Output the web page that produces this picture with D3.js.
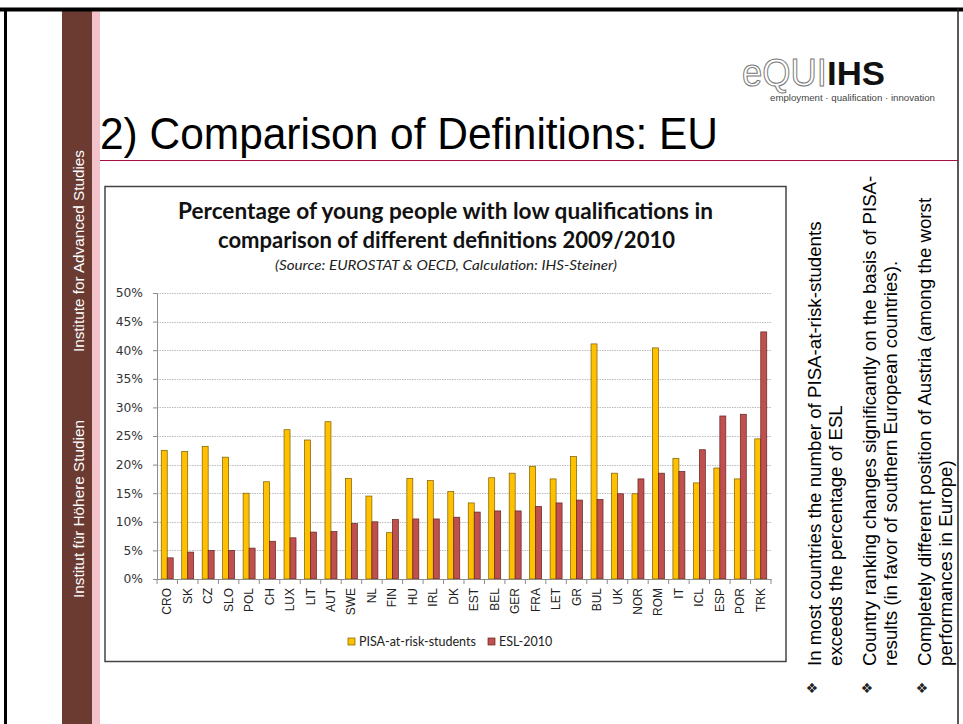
<!DOCTYPE html>
<html>
<head>
<meta charset="utf-8">
<script src="https://cdn.jsdelivr.net/npm/d3@7"></script>
<style>
  body { margin: 0; background: #fff; }
  svg { display: block; }
</style>
</head>
<body>
<div id="slide"></div>
<script>
// data
const countries = ['CRO','SK','CZ','SLO','POL','CH','LUX','LIT','AUT','SWE','NL','FIN','HU','IRL','DK',
  'EST','BEL','GER','FRA','LET','GR','BUL','UK','NOR','ROM','IT','ICL','ESP','POR','TRK'];
const pisa = [22.5, 22.3, 23.2, 21.3, 15.0, 17.0, 26.1, 24.3, 27.5, 17.6, 14.5, 8.1, 17.6, 17.2, 15.3,
  13.3, 17.7, 18.5, 19.7, 17.5, 21.4, 41.1, 18.5, 14.9, 40.4, 21.1, 16.8, 19.4, 17.5, 24.5];
const esl = [3.7, 4.7, 5.0, 5.0, 5.4, 6.6, 7.2, 8.2, 8.3, 9.7, 10.0, 10.4, 10.5, 10.5, 10.8,
  11.7, 11.9, 11.9, 12.7, 13.3, 13.8, 13.9, 14.9, 17.5, 18.5, 18.8, 22.6, 28.5, 28.8, 43.2];
const series = ['PISA-at-risk-students', 'ESL-2010'];
const seriesColors = ['#FFC000', '#C0504D'];
const seriesStroke = ['#7a5c00', '#5e2523'];
const yTicks = [0, 5, 10, 15, 20, 25, 30, 35, 40, 45, 50];

const bullets = [
  ['In most countries the number of PISA-at-risk-students', 'exceeds the percentage of ESL'],
  ['Country ranking changes significantly on the basis of PISA-', 'results (in favor of southern European countries).'],
  ['Completely different position of Austria (among the worst', 'performances in Europe)']
];

const width = 963, height = 724;
const plot = { left: 157, right: 771, top: 293, bottom: 579 };

const svg = d3.select('#slide').append('svg')
  .attr('width', width)
  .attr('height', height);

// slide frame and side band
svg.append('rect').attr('x', 0).attr('y', 0).attr('width', width).attr('height', height).attr('fill', '#fff');
svg.append('rect').attr('x', 62).attr('y', 11).attr('width', 30).attr('height', height).attr('fill', '#6b3a31');
svg.append('rect').attr('x', 92).attr('y', 11).attr('width', 8).attr('height', height).attr('fill', '#f2c3ca');
svg.append('line').attr('x1', 0).attr('x2', 963).attr('y1', 9.5).attr('y2', 9.5).attr('stroke', '#000').attr('stroke-width', 4);
svg.append('line').attr('x1', 5.5).attr('x2', 5.5).attr('y1', 8).attr('y2', height).attr('stroke', '#000').attr('stroke-width', 3);
svg.append('line').attr('x1', 958).attr('x2', 958).attr('y1', 8).attr('y2', height).attr('stroke', '#222').attr('stroke-width', 1.5);

const side = svg.append('g').attr('fill', '#fff').attr('font-family', 'Liberation Sans, Arial, sans-serif').attr('font-size', 15);
side.append('text').attr('transform', 'translate(84,598) rotate(-90)')
  .attr('textLength', 178).attr('lengthAdjust', 'spacingAndGlyphs').text('Institut für Höhere Studien');
side.append('text').attr('transform', 'translate(84,352) rotate(-90)')
  .attr('textLength', 202).attr('lengthAdjust', 'spacingAndGlyphs').text('Institute for Advanced Studies');

// title
svg.append('text')
  .attr('x', 100).attr('y', 149)
  .attr('font-family', 'Liberation Sans, Arial, sans-serif')
  .attr('font-size', 45)
  .attr('textLength', 618).attr('lengthAdjust', 'spacingAndGlyphs')
  .attr('fill', '#000')
  .text('2) Comparison of Definitions: EU');
svg.append('line').attr('x1', 100).attr('x2', 958).attr('y1', 160.5).attr('y2', 160.5)
  .attr('stroke', '#a3123f').attr('stroke-width', 1.2);

// logo
svg.append('text').attr('x', 742).attr('y', 86)
  .attr('font-family', 'Liberation Sans, Arial, sans-serif').attr('font-size', 38)
  .attr('textLength', 85).attr('lengthAdjust', 'spacingAndGlyphs')
  .attr('fill', '#fff').attr('stroke', '#777').attr('stroke-width', 1)
  .text('eQUI');
svg.append('text').attr('x', 827).attr('y', 85)
  .attr('font-family', 'Liberation Sans, Arial, sans-serif').attr('font-size', 34).attr('font-weight', 'bold')
  .attr('textLength', 58).attr('lengthAdjust', 'spacingAndGlyphs')
  .attr('fill', '#111').text('IHS');
svg.append('text').attr('x', 770).attr('y', 101)
  .attr('font-family', 'Liberation Sans, Arial, sans-serif').attr('font-size', 8.5)
  .attr('textLength', 165).attr('lengthAdjust', 'spacingAndGlyphs')
  .attr('fill', '#444')
  .text('employment · qualification · innovation');

// chart box
svg.append('rect').attr('x', 105).attr('y', 186.5).attr('width', 681).attr('height', 475)
  .attr('fill', '#fff').attr('stroke', '#444').attr('stroke-width', 1.5);

const chartTitle = svg.append('g').attr('font-family', 'Lato, Calibri, sans-serif').attr('text-anchor', 'middle').attr('fill', '#111');
chartTitle.append('text').attr('x', 445.5).attr('y', 219).attr('font-size', 22).attr('font-weight', 'bold')
  .attr('textLength', 535).attr('lengthAdjust', 'spacingAndGlyphs')
  .text('Percentage of young people with low qualifications in');
chartTitle.append('text').attr('x', 446.5).attr('y', 248).attr('font-size', 22).attr('font-weight', 'bold')
  .attr('textLength', 457).attr('lengthAdjust', 'spacingAndGlyphs')
  .text('comparison of different definitions 2009/2010');
chartTitle.append('text').attr('x', 446).attr('y', 270).attr('font-size', 14).attr('font-style', 'italic')
  .attr('textLength', 342).attr('lengthAdjust', 'spacingAndGlyphs')
  .attr('fill', '#222')
  .text('(Source: EUROSTAT & OECD,  Calculation: IHS-Steiner)');

// scales
const x = d3.scaleBand().domain(countries).range([plot.left, plot.right]).padding(0);
const xs = d3.scaleBand().domain(series).range([0, x.bandwidth()]).paddingInner(0).paddingOuter(0.71);
const y = d3.scaleLinear().domain([0, 50]).range([plot.bottom, plot.top]);

// gridlines
svg.append('g').selectAll('line').data(yTicks.slice(1)).join('line')
  .attr('x1', plot.left).attr('x2', plot.right)
  .attr('y1', d => Math.round(y(d)) + 0.5).attr('y2', d => Math.round(y(d)) + 0.5)
  .attr('stroke', '#bdbdbd').attr('stroke-dasharray', '1.5,1');

// y axis
const yAxis = svg.append('g')
  .attr('transform', `translate(${plot.left},0)`)
  .call(d3.axisLeft(y).tickValues(yTicks).tickFormat(d => d + '%').tickSize(4).tickPadding(10));
yAxis.select('.domain').attr('stroke', '#8c8c8c');
yAxis.selectAll('.tick line').attr('stroke', '#8c8c8c');
yAxis.selectAll('text').attr('font-family', 'DejaVu Sans, Verdana, sans-serif').attr('font-size', 12.3).attr('fill', '#333');

// bars
const rows = countries.map((c, i) => ({ c, vals: [pisa[i], esl[i]] }));
svg.append('g').selectAll('g').data(rows).join('g')
  .attr('transform', d => `translate(${x(d.c)},0)`)
  .selectAll('rect').data(d => d.vals.map((v, k) => ({ k, v }))).join('rect')
  .attr('x', d => xs(series[d.k]))
  .attr('y', d => y(d.v))
  .attr('width', xs.bandwidth())
  .attr('height', d => y(0) - y(d.v))
  .attr('fill', d => seriesColors[d.k])
  .attr('stroke', d => seriesStroke[d.k])
  .attr('stroke-width', 0.7);

// x axis
const xAxis = svg.append('g')
  .attr('transform', `translate(0,${plot.bottom})`)
  .call(d3.axisBottom(x).tickSize(0).tickPadding(0));
xAxis.select('.domain').attr('stroke', '#8c8c8c');
xAxis.selectAll('.tick text')
  .attr('transform', 'translate(4,9) rotate(-90)')
  .attr('text-anchor', 'end').attr('dy', 0).attr('y', 0)
  .attr('font-family', 'Liberation Sans, Arial, sans-serif').attr('font-size', 12).attr('fill', '#222');
svg.append('g').selectAll('line').data(countries.concat(['end'])).join('line')
  .attr('x1', d => d === 'end' ? plot.right : x(d)).attr('x2', d => d === 'end' ? plot.right : x(d))
  .attr('y1', plot.bottom).attr('y2', plot.bottom + 5)
  .attr('stroke', '#8c8c8c');

// legend
const legend = svg.append('g').attr('font-family', 'Lato, Calibri, sans-serif').attr('font-size', 12.5).attr('fill', '#222');
const legendX = [348, 488];
series.forEach((s, k) => {
  legend.append('rect').attr('x', legendX[k]).attr('y', 638).attr('width', 7).attr('height', 7)
    .attr('fill', seriesColors[k]).attr('stroke', seriesStroke[k]).attr('stroke-width', 0.7);
  legend.append('text').attr('x', legendX[k] + 11).attr('y', 646).text(s);
});

// side notes
const notes = svg.append('g').attr('font-family', 'Liberation Sans, Arial, sans-serif').attr('font-size', 18.7).attr('fill', '#000');
const noteX = [[821, 842], [876, 897], [931, 952]];
bullets.forEach((lines, b) => {
  lines.forEach((t, l) => {
    notes.append('text').attr('transform', `translate(${noteX[b][l]},666) rotate(-90)`).text(t);
  });
  notes.append('text').attr('transform', `translate(${noteX[b][0] - 4},688) rotate(-90)`)
    .attr('font-family', 'DejaVu Sans, sans-serif').attr('font-size', 14).attr('text-anchor', 'middle')
    .attr('fill', '#222').text('❖');
});
</script>
</body>
</html>
